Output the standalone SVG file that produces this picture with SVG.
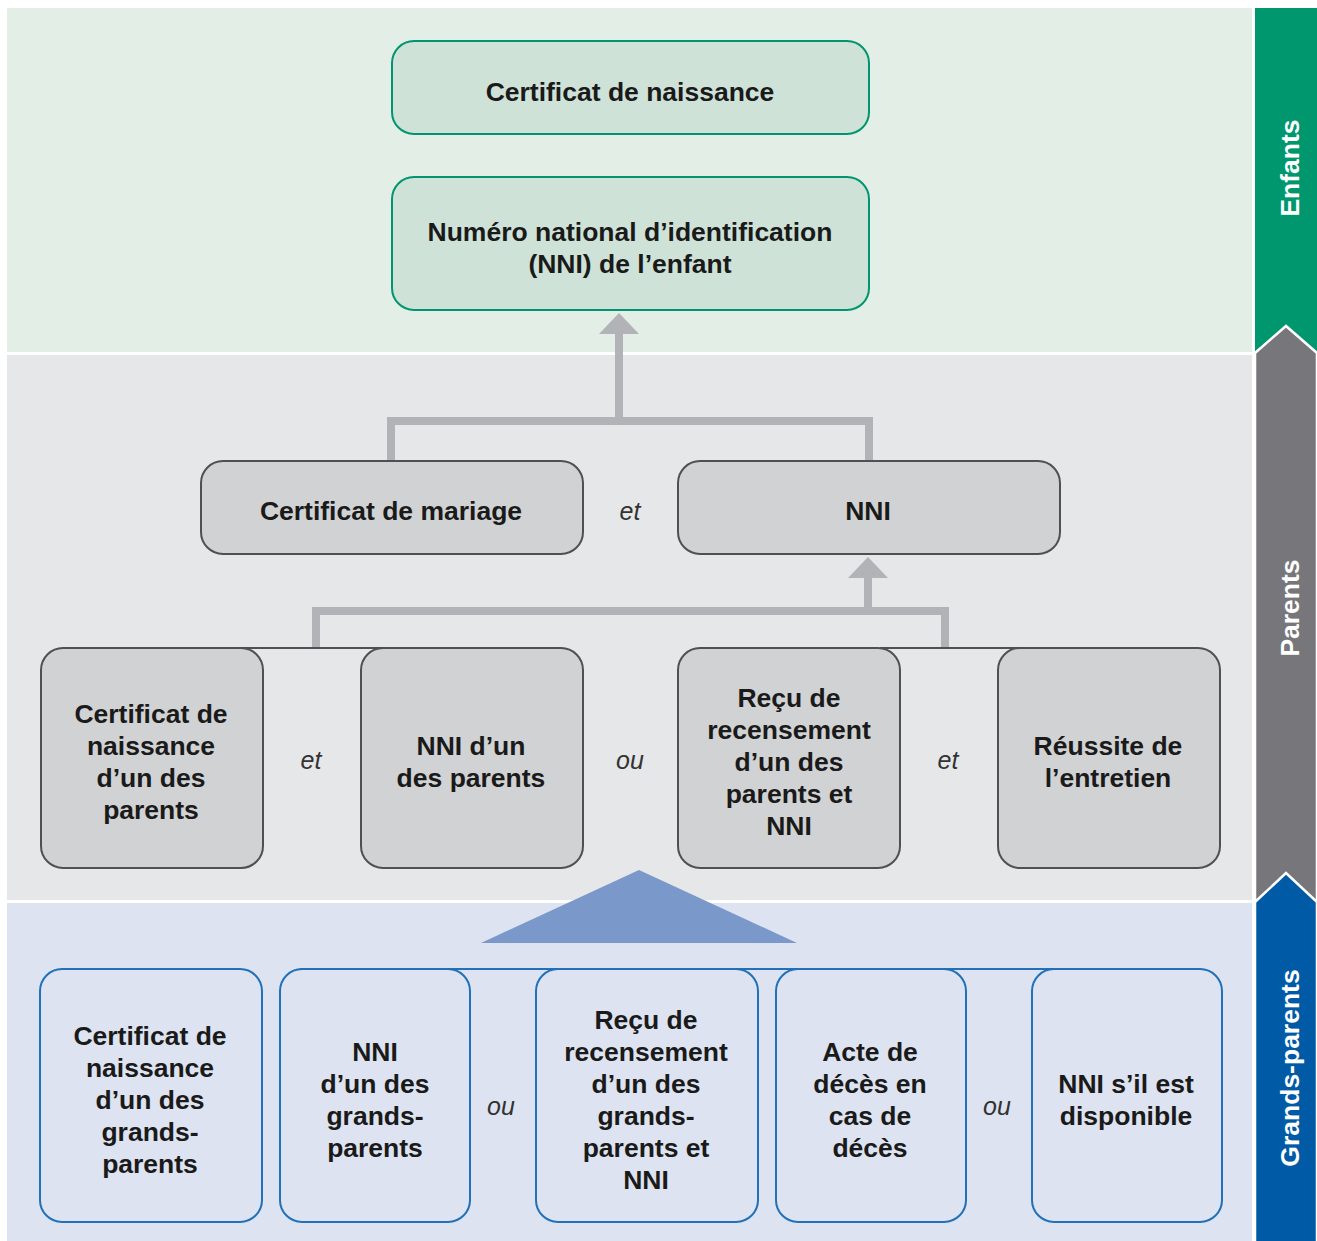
<svg xmlns="http://www.w3.org/2000/svg" width="1317" height="1241" viewBox="0 0 1317 1241">
<style>
.t{font-family:"Liberation Sans",Arial,sans-serif;font-weight:bold;font-size:26.5px;fill:#1a1a1a;text-anchor:middle;dominant-baseline:central}
.c{font-family:"Liberation Sans",Arial,sans-serif;font-style:italic;font-size:25px;fill:#333;text-anchor:middle;dominant-baseline:central}
.side{font-family:"Liberation Sans",Arial,sans-serif;font-weight:bold;font-size:26.5px;fill:#fff;text-anchor:middle;dominant-baseline:central}
.g{fill:#cfe2d8;stroke:#00956e;stroke-width:2}
.k{fill:#d1d2d4;stroke:#505052;stroke-width:2}
.b{fill:#dde3f0;stroke:#2170b8;stroke-width:2}
.con{fill:none;stroke:#b1b3b6;stroke-width:8}
</style>
<rect width="1317" height="1241" fill="#fff"/>
<rect x="7" y="8" width="1245" height="344" fill="#e3eee6"/>
<rect x="7" y="355" width="1245" height="545" fill="#e6e7e8"/>
<rect x="7" y="903" width="1245" height="338" fill="#dde3f0"/>
<rect x="1255" y="8" width="62" height="360" fill="#00976f"/>
<path d="M1255,353 L1286,326 L1317,353 V910 H1255 Z" fill="#77777b" stroke="#fff" stroke-width="2.5"/>
<path d="M1255,902 L1286,873 L1317,902 V1245 H1255 Z" fill="#005aa5" stroke="#fff" stroke-width="2.5"/>
<text class="side" transform="translate(1290,168) rotate(-90)">Enfants</text>
<text class="side" transform="translate(1290,608) rotate(-90)">Parents</text>
<text class="side" transform="translate(1290,1068) rotate(-90)">Grands-parents</text>
<g id="connectors">
<path class="con" d="M391,461 V421 H869 V461 M619,421 V330"/>
<polygon points="619,313 599,334 639,334" fill="#b1b3b6"/>
<path class="con" d="M316,648 V611 H945 V648 M868,611 V576"/>
<polygon points="868,557 848,578 888,578" fill="#b1b3b6"/>
<path d="M240,648 H385 M880,648 H1020" stroke="#505052" stroke-width="2" fill="none"/>
<polygon points="639,870 481,943 797,943" fill="#7a98ca"/>
<path d="M300,969 H1200" stroke="#2170b8" stroke-width="2" fill="none"/>
</g>
<g id="n1"><rect class="g" x="392" y="41" width="477" height="93" rx="22"/><text class="t" x="630" y="92">Certificat de naissance</text></g>
<g id="n2"><rect class="g" x="392" y="177" width="477" height="133" rx="22"/><text class="t" x="630" y="232">Numéro national d’identification</text><text class="t" x="630" y="264">(NNI) de l’enfant</text></g>
<g id="n3"><rect class="k" x="201" y="461" width="382" height="93" rx="22"/><text class="t" x="391" y="511">Certificat de mariage</text></g>
<text class="c" x="630" y="511">et</text>
<g id="n4"><rect class="k" x="678" y="461" width="382" height="93" rx="22"/><text class="t" x="868" y="511">NNI</text></g>
<g id="n5"><rect class="k" x="41" y="648" width="222" height="220" rx="22"/><text class="t" x="151" y="714">Certificat de</text><text class="t" x="151" y="746">naissance</text><text class="t" x="151" y="778">d’un des</text><text class="t" x="151" y="810">parents</text></g>
<text class="c" x="311" y="760">et</text>
<g id="n6"><rect class="k" x="361" y="648" width="222" height="220" rx="22"/><text class="t" x="471" y="746">NNI d’un</text><text class="t" x="471" y="778">des parents</text></g>
<text class="c" x="630" y="760">ou</text>
<g id="n7"><rect class="k" x="678" y="648" width="222" height="220" rx="22"/><text class="t" x="789" y="698">Reçu de</text><text class="t" x="789" y="730">recensement</text><text class="t" x="789" y="762">d’un des</text><text class="t" x="789" y="794">parents et</text><text class="t" x="789" y="826">NNI</text></g>
<text class="c" x="948" y="760">et</text>
<g id="n8"><rect class="k" x="998" y="648" width="222" height="220" rx="22"/><text class="t" x="1108" y="746">Réussite de</text><text class="t" x="1108" y="778">l’entretien</text></g>
<g id="n9"><rect class="b" x="40" y="969" width="222" height="253" rx="22"/><text class="t" x="150" y="1036">Certificat de</text><text class="t" x="150" y="1068">naissance</text><text class="t" x="150" y="1100">d’un des</text><text class="t" x="150" y="1132">grands-</text><text class="t" x="150" y="1164">parents</text></g>
<g id="n10"><rect class="b" x="280" y="969" width="190" height="253" rx="22"/><text class="t" x="375" y="1052">NNI</text><text class="t" x="375" y="1084">d’un des</text><text class="t" x="375" y="1116">grands-</text><text class="t" x="375" y="1148">parents</text></g>
<text class="c" x="501" y="1106">ou</text>
<g id="n11"><rect class="b" x="536" y="969" width="222" height="253" rx="22"/><text class="t" x="646" y="1020">Reçu de</text><text class="t" x="646" y="1052">recensement</text><text class="t" x="646" y="1084">d’un des</text><text class="t" x="646" y="1116">grands-</text><text class="t" x="646" y="1148">parents et</text><text class="t" x="646" y="1180">NNI</text></g>
<g id="n12"><rect class="b" x="776" y="969" width="190" height="253" rx="22"/><text class="t" x="870" y="1052">Acte de</text><text class="t" x="870" y="1084">décès en</text><text class="t" x="870" y="1116">cas de</text><text class="t" x="870" y="1148">décès</text></g>
<text class="c" x="997" y="1106">ou</text>
<g id="n13"><rect class="b" x="1032" y="969" width="190" height="253" rx="22"/><text class="t" x="1126" y="1084">NNI s’il est</text><text class="t" x="1126" y="1116">disponible</text></g>
</svg>
